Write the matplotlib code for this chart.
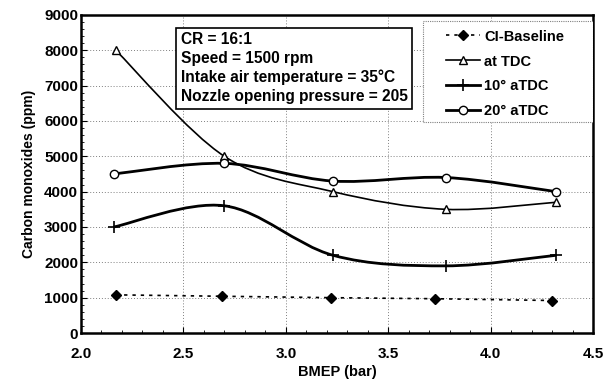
import numpy as np
import matplotlib.pyplot as plt
from matplotlib.path import Path
from matplotlib.patches import PathPatch, Rectangle
from matplotlib.lines import Line2D
from matplotlib.ticker import MultipleLocator

plt.rcParams['font.family'] = ['Liberation Sans', 'DejaVu Sans']
plt.rcParams['font.weight'] = 'bold'

base_x = [2.17, 2.69, 3.22, 3.73, 4.30]
base_y = [1080, 1040, 1000, 970, 920]
tdc_x = [2.17, 2.70, 3.23, 3.78, 4.32]
tdc_y = [8000, 5000, 4000, 3500, 3700]
a10_x = [2.16, 2.70, 3.23, 3.78, 4.32]
a10_y = [3000, 3600, 2200, 1900, 2200]
a20_x = [2.16, 2.70, 3.23, 3.78, 4.32]
a20_y = [4500, 4800, 4300, 4400, 4000]
x_ticks = [2.0, 2.5, 3.0, 3.5, 4.0, 4.5]

info = "CR = 16:1\nSpeed = 1500 rpm\nIntake air temperature = 35°C\nNozzle opening pressure = 205"


def smooth_path(x, y):
    # bezier through the points, like a spreadsheet "smoothed line"
    p = np.column_stack([x, y]).astype(float)
    verts = [p[0]]
    codes = [Path.MOVETO]
    n = len(p)
    for i in range(n - 1):
        p0 = p[i - 1] if i > 0 else p[i]
        p3 = p[i + 2] if i + 2 < n else p[i + 1]
        c1 = p[i] + (p[i + 1] - p0) / 6
        c2 = p[i + 1] - (p3 - p[i]) / 6
        verts += [c1, c2, p[i + 1]]
        codes += [Path.CURVE4] * 3
    return Path(verts, codes)


fig = plt.figure(figsize=(6.04, 3.83), dpi=100)
ax = fig.add_axes([0.134, 0.1305, 0.848, 0.8305])

ax.plot(base_x, base_y, ls=(0, (2, 3)), color='black', lw=1.2,
        marker='D', ms=5.5, mfc='black', zorder=3)

for x, y, lw in [(tdc_x, tdc_y, 1.2), (a10_x, a10_y, 2.0), (a20_x, a20_y, 2.0)]:
    ax.add_patch(PathPatch(smooth_path(x, y), fill=False, lw=lw, color='black', zorder=3))

ax.plot(tdc_x, tdc_y, ls='none', marker='^', ms=6, mfc='white', mec='black', mew=1, zorder=4)
ax.plot(a10_x, a10_y, ls='none', marker='+', ms=9, mec='black', mew=1.2, zorder=4)
ax.plot(a20_x, a20_y, ls='none', marker='o', ms=6, mfc='white', mec='black', mew=1, zorder=4)

ax.set_xlim(2.0, 4.5)
ax.set_ylim(0, 9000)
ax.set_xticks(x_ticks)
ax.set_xticklabels(['%.1f' % v for v in x_ticks])
ax.xaxis.set_minor_locator(MultipleLocator(0.1))
ax.yaxis.set_major_locator(MultipleLocator(1000))
ax.yaxis.set_minor_locator(MultipleLocator(200))
ax.tick_params(which='both', direction='in', labelsize=11)
ax.tick_params(which='major', length=4, pad=10)
ax.tick_params(which='minor', length=2)
ax.tick_params(axis='y', pad=2)
ax.grid(True, which='major', ls=(0, (1, 2)), color='gray', lw=0.7)
for s in ax.spines.values():
    s.set_linewidth(1.8)

ax.set_xlabel('BMEP (bar)', fontsize=10.5, fontweight='bold', labelpad=3)
ax.set_ylabel('Carbon monoxides (ppm)', fontsize=10, fontweight='bold', labelpad=6)

ax.text(0.1945, 0.945, info, transform=ax.transAxes, fontsize=11.2, fontweight='bold',
        va='top', ha='left', linespacing=1.3, zorder=5,
        bbox=dict(boxstyle='square,pad=0.3', fc='white', ec='black', lw=1.2))

# dotted legend frame
ax.add_patch(Rectangle((0.668, 0.6635), 0.332, 0.3175, transform=ax.transAxes,
                       fc='white', ec='gray', ls=(0, (1, 1)), lw=0.8, zorder=5))

handles = [
    Line2D([], [], ls=(0, (2, 3)), color='black', marker='D', ms=5.5, lw=1.2),
    Line2D([], [], color='black', marker='^', ms=6, mfc='white', lw=1.2),
    Line2D([], [], color='black', marker='+', ms=9, mew=1.2, lw=2),
    Line2D([], [], color='black', marker='o', ms=6, mfc='white', lw=2),
]
labels = ['CI-Baseline', 'at TDC', '10° aTDC', '20° aTDC']
leg = ax.legend(handles, labels, loc='upper left', bbox_to_anchor=(0.713, 0.954),
                fontsize=10.5, frameon=False, labelspacing=0.75,
                handlelength=2.3, handletextpad=0.3, borderpad=0.0, borderaxespad=0.0)
leg.set_zorder(6)

fig.savefig('out.png', dpi=100)
